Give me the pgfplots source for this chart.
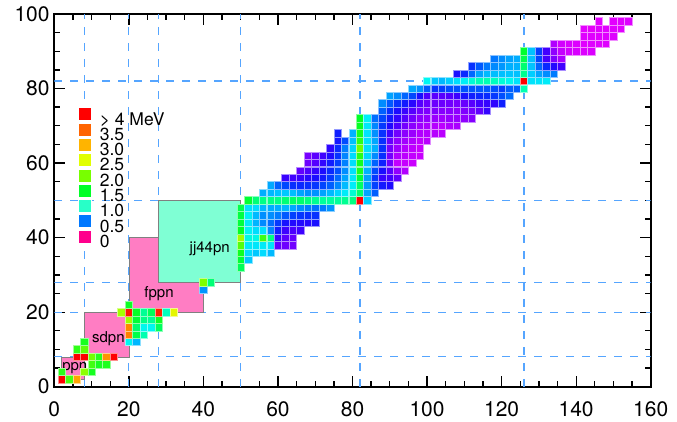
\documentclass[border=0pt]{standalone}
\usepackage{fontspec}
\setmainfont{TeX Gyre Heros}
\usepackage{pgfplots}
\pgfplotsset{compat=1.18}
\definecolor{magic}{RGB}{85,165,255}
\definecolor{boxpink}{RGB}{255,125,195}
\definecolor{boxaqua}{RGB}{127,255,212}
\definecolor{c40}{RGB}{255,0,0}
\definecolor{c35}{RGB}{255,100,0}
\definecolor{c30}{RGB}{255,180,0}
\definecolor{c25}{RGB}{225,255,0}
\definecolor{c20}{RGB}{120,255,0}
\definecolor{c15}{RGB}{0,255,40}
\definecolor{c10}{RGB}{40,255,200}
\definecolor{c05}{RGB}{0,120,255}
\definecolor{c00}{RGB}{255,0,140}
\pgfplotsset{colormap={etwo}{
 rgb255(0pt)=(255,0,140)
 rgb255(4pt)=(228,0,255)
 rgb255(7pt)=(200,0,255)
 rgb255(8pt)=(180,0,255)
 rgb255(9pt)=(155,0,255)
 rgb255(11pt)=(128,0,255)
 rgb255(14pt)=(100,0,255)
 rgb255(18pt)=(68,0,255)
 rgb255(25pt)=(30,10,255)
 rgb255(32pt)=(10,40,255)
 rgb255(40pt)=(0,75,255)
 rgb255(50pt)=(0,120,255)
 rgb255(62pt)=(0,170,255)
 rgb255(75pt)=(0,215,255)
 rgb255(88pt)=(0,245,245)
 rgb255(100pt)=(0,255,200)
 rgb255(125pt)=(0,255,120)
 rgb255(150pt)=(0,255,40)
 rgb255(200pt)=(120,255,0)
 rgb255(250pt)=(225,255,0)
 rgb255(300pt)=(255,180,0)
 rgb255(350pt)=(255,100,0)
 rgb255(400pt)=(255,0,0)
}}
\pgfplotsset{magicline/.style={color=magic, line width=1.2pt, dash pattern=on 8pt off 8pt, forget plot}}
\begin{document}
\begin{tikzpicture}
\useasboundingbox (-54.3pt,-34.3pt) rectangle (622.7pt,386.7pt);
\begin{axis}[
  at={(0pt,0pt)}, anchor=south west,
  scale only axis, width=596.4pt, height=372.75pt,
  xmin=0, xmax=160, ymin=0, ymax=100,
  xtick={0,20,...,160}, ytick={0,20,...,100},
  minor x tick num=3, minor y tick num=3,
  tick align=inside,
  major tick length=11pt, minor tick length=6pt,
  every tick/.style={black, line width=1.3pt},
  axis line style={black, line width=1.8pt},
  /pgf/number format/assume math mode=true,
  tick label style={font=\fontsize{21}{24}\selectfont},
  xticklabel style={inner sep=0pt, yshift=-15pt},
  yticklabel style={inner sep=0pt, xshift=-4.5pt},
  colormap name=etwo,
  point meta min=0, point meta max=4,
  legend style={at={(axis cs:6.44,75.0)}, anchor=north west, draw=none, fill=none,
    inner sep=0pt, outer sep=0pt, row sep=-3.9pt,
    font=\fontsize{17.5}{18}\selectfont,
    nodes={inner sep=0pt, outer sep=0pt},
    /tikz/every odd column/.append style={column sep=8pt}},
  legend cell align=left,
  legend image code/.code={\filldraw[#1, draw=white, line width=0.5pt] (0pt,-1pt) rectangle (13pt,12pt);},
]
\addlegendimage{fill=c40}\addlegendentry{> 4 MeV}
\addlegendimage{fill=c35}\addlegendentry{3.5}
\addlegendimage{fill=c30}\addlegendentry{3.0}
\addlegendimage{fill=c25}\addlegendentry{2.5}
\addlegendimage{fill=c20}\addlegendentry{2.0}
\addlegendimage{fill=c15}\addlegendentry{1.5}
\addlegendimage{fill=c10}\addlegendentry{1.0}
\addlegendimage{fill=c05}\addlegendentry{0.5}
\addlegendimage{fill=c00}\addlegendentry{0}

% magic-number lines
\addplot[magicline] coordinates {(8,0) (8,100)};
\addplot[magicline] coordinates {(20,0) (20,100)};
\addplot[magicline] coordinates {(28,0) (28,100)};
\addplot[magicline] coordinates {(50,0) (50,100)};
\addplot[magicline] coordinates {(82,0) (82,100)};
\addplot[magicline] coordinates {(126,0) (126,100)};
\addplot[magicline] coordinates {(0,8) (160,8)};
\addplot[magicline] coordinates {(0,20) (160,20)};
\addplot[magicline] coordinates {(0,28) (160,28)};
\addplot[magicline] coordinates {(0,50) (160,50)};
\addplot[magicline] coordinates {(0,82) (160,82)};

% E(2+) cells
\addplot[scatter, only marks, mark=square*, mark size=3.72pt, point meta=explicit,
  scatter/use mapped color={draw=mapped color!45!white, fill=mapped color},
  mark options={line width=0.55pt}, forget plot]
  table[x=N, y=Z, meta=E] {
N Z E
2 2 4.0
4 2 1.80
6 2 3.10
2 4 1.67
8 4 2.10
10 4 1.59
10 6 1.77
12 6 1.59
14 6 1.62
6 8 4.0
8 8 4.0
10 8 1.98
12 8 1.67
14 8 3.20
16 8 4.0
6 10 1.70
8 10 1.89
8 12 1.60
20 12 0.89
22 12 0.66
20 14 3.33
22 14 1.40
24 14 1.07
20 16 3.29
22 16 1.29
24 16 0.90
26 16 0.89
28 16 1.33
20 18 2.17
22 18 1.46
24 18 1.21
26 18 1.16
28 18 1.55
18 20 2.21
20 20 3.90
22 20 1.52
24 20 1.16
26 20 1.35
28 20 3.83
30 20 1.03
32 20 2.56
20 22 1.55
40 26 0.57
40 28 2.03
42 28 1.26
50 32 1.35
50 34 1.45
50 36 1.56
50 38 1.84
50 40 2.19
50 42 1.51
50 44 1.43
50 46 1.42
50 48 1.39
52 34 0.704
52 36 0.775
54 36 0.707
56 36 0.769
58 36 0.665
52 38 0.832
54 38 0.815
56 38 0.837
58 38 0.815
60 38 0.144
62 38 0.129
64 38 0.126
52 40 0.934
54 40 0.918
56 40 1.75
58 40 1.22
60 40 0.212
62 40 0.152
64 40 0.140
52 42 0.871
54 42 0.778
56 42 0.787
58 42 0.536
60 42 0.297
62 42 0.192
64 42 0.171
66 42 0.193
52 44 0.833
54 44 0.652
56 44 0.540
58 44 0.475
60 44 0.358
62 44 0.270
64 44 0.242
66 44 0.241
68 44 0.237
70 44 0.265
52 46 0.863
54 46 0.666
56 46 0.556
58 46 0.556
60 46 0.512
62 46 0.434
64 46 0.374
66 46 0.349
68 46 0.333
70 46 0.340
52 48 0.795
54 48 0.777
56 48 0.658
58 48 0.633
60 48 0.633
62 48 0.658
64 48 0.617
66 48 0.558
68 48 0.513
70 48 0.488
72 48 0.506
74 48 0.569
52 50 1.47
54 50 1.26
56 50 1.21
58 50 1.21
60 50 1.21
62 50 1.26
64 50 1.30
66 50 1.29
68 50 1.23
70 50 1.17
72 50 1.14
74 50 1.13
76 50 1.14
78 50 1.17
80 50 1.22
82 50 4.0
84 50 0.726
56 52 0.63
58 52 0.657
60 52 0.689
62 52 0.709
64 52 0.679
66 52 0.606
68 52 0.560
70 52 0.564
72 52 0.603
74 52 0.666
76 52 0.743
78 52 0.839
80 52 0.974
82 52 1.279
84 52 0.606
86 52 0.443
58 54 0.615
60 54 0.450
62 54 0.393
64 54 0.337
66 54 0.323
68 54 0.331
70 54 0.354
72 54 0.389
74 54 0.443
76 54 0.536
78 54 0.668
80 54 0.847
82 54 1.313
84 54 0.589
86 54 0.377
88 54 0.287
90 54 0.253
62 56 0.20
64 56 0.185
66 56 0.196
68 56 0.230
70 56 0.256
72 56 0.284
74 56 0.357
76 56 0.465
78 56 0.605
80 56 0.819
82 56 1.436
84 56 0.602
86 56 0.360
88 56 0.199
90 56 0.181
92 56 0.142
66 58 0.142
68 58 0.170
70 58 0.207
72 58 0.254
74 58 0.325
76 58 0.409
78 58 0.552
80 58 0.789
82 58 1.596
84 58 0.641
86 58 0.397
88 58 0.258
90 58 0.158
92 58 0.097
94 58 0.081
68 60 0.130
70 60 0.159
72 60 0.213
74 60 0.294
76 60 0.374
78 60 0.521
80 60 0.774
82 60 1.576
84 60 0.697
86 60 0.454
88 60 0.302
90 60 0.130
92 60 0.073
94 60 0.071
96 60 0.067
68 62 0.12
70 62 0.15
72 62 0.19
74 62 0.255
76 62 0.347
78 62 0.531
80 62 0.768
82 62 1.660
84 62 0.747
86 62 0.550
88 62 0.334
90 62 0.122
92 62 0.082
94 62 0.076
96 62 0.073
98 62 0.070
74 64 0.221
76 64 0.329
78 64 0.515
80 64 0.743
82 64 1.972
84 64 0.784
86 64 0.638
88 64 0.344
90 64 0.123
92 64 0.089
94 64 0.080
96 64 0.075
98 64 0.069
76 66 0.28
78 66 0.40
80 66 0.683
82 66 1.678
84 66 0.803
86 66 0.614
88 66 0.335
90 66 0.138
92 66 0.099
94 66 0.087
96 66 0.081
98 66 0.073
100 66 0.077
76 68 0.30
80 68 0.646
82 68 1.579
84 68 0.808
86 68 0.561
88 68 0.344
90 68 0.192
92 68 0.126
94 68 0.102
96 68 0.091
98 68 0.081
100 68 0.080
102 68 0.079
104 68 0.077
82 70 1.531
84 70 0.821
86 70 0.536
88 70 0.358
90 70 0.243
92 70 0.167
94 70 0.123
96 70 0.102
98 70 0.088
100 70 0.084
102 70 0.079
104 70 0.076
106 70 0.082
108 70 0.084
82 72 1.51
84 72 0.858
86 72 0.477
88 72 0.390
90 72 0.285
92 72 0.211
94 72 0.159
96 72 0.124
98 72 0.100
100 72 0.095
102 72 0.091
104 72 0.088
106 72 0.093
108 72 0.093
110 72 0.098
112 72 0.107
88 74 0.450
90 74 0.332
92 74 0.252
94 74 0.199
96 74 0.157
98 74 0.123
100 74 0.112
102 74 0.109
104 74 0.106
106 74 0.104
108 74 0.100
110 74 0.111
112 74 0.122
114 74 0.143
116 74 0.207
88 76 0.548
90 76 0.431
92 76 0.341
94 76 0.287
96 76 0.228
98 76 0.159
100 76 0.135
102 76 0.132
104 76 0.132
106 76 0.127
108 76 0.120
110 76 0.137
112 76 0.155
114 76 0.187
116 76 0.206
118 76 0.218
120 76 0.30
90 78 0.60
92 78 0.55
94 78 0.458
96 78 0.394
98 78 0.264
100 78 0.170
102 78 0.153
104 78 0.155
106 78 0.163
108 78 0.192
110 78 0.266
112 78 0.296
114 78 0.317
116 78 0.328
118 78 0.356
120 78 0.407
122 78 0.470
96 80 0.61
98 80 0.558
100 80 0.434
102 80 0.352
104 80 0.367
106 80 0.405
108 80 0.413
110 80 0.416
112 80 0.423
114 80 0.428
116 80 0.426
118 80 0.412
120 80 0.368
122 80 0.440
124 80 0.437
126 80 1.068
100 82 0.888
102 82 0.702
104 82 0.662
106 82 0.724
108 82 0.774
110 82 0.854
112 82 0.965
114 82 1.049
116 82 1.064
118 82 1.027
120 82 0.961
122 82 0.899
124 82 0.803
126 82 4.0
128 82 0.800
130 82 0.805
132 82 0.836
108 84 0.262
110 84 0.320
112 84 0.463
114 84 0.605
116 84 0.666
118 84 0.677
120 84 0.684
122 84 0.700
124 84 0.686
126 84 1.181
128 84 0.727
130 84 0.609
132 84 0.550
134 84 0.509
112 86 0.34
114 86 0.433
116 86 0.504
118 86 0.543
120 86 0.575
122 86 0.636
124 86 0.644
126 86 1.274
128 86 0.695
130 86 0.461
132 86 0.324
134 86 0.241
136 86 0.186
118 88 0.50
120 88 0.55
122 88 0.60
124 88 0.629
126 88 1.383
128 88 0.688
130 88 0.389
132 88 0.178
134 88 0.111
136 88 0.084
126 90 1.48
128 90 0.69
130 90 0.37
132 90 0.183
134 90 0.098
136 90 0.072
138 90 0.058
140 90 0.053
142 90 0.049
144 90 0.050
134 92 0.081
136 92 0.059
138 92 0.052
140 92 0.048
142 92 0.043
144 92 0.045
146 92 0.045
148 92 0.045
142 94 0.044
144 94 0.044
146 94 0.043
148 94 0.045
150 94 0.046
142 96 0.040
144 96 0.038
146 96 0.042
148 96 0.043
150 96 0.043
152 96 0.043
146 98 0.040
150 98 0.041
152 98 0.043
154 98 0.046
};

% model-space boxes
\addplot[fill=boxpink, draw=gray, line width=0.7pt, forget plot] coordinates {(20,20) (40,20) (40,40) (20,40)} -- cycle;
\addplot[fill=boxaqua, draw=gray, line width=0.7pt, forget plot] coordinates {(28,28) (50,28) (50,50) (28,50)} -- cycle;
\addplot[fill=boxpink, draw=gray, line width=0.7pt, forget plot] coordinates {(8,8) (20,8) (20,20) (8,20)} -- cycle;
\addplot[fill=boxpink, draw=gray, line width=0.7pt, forget plot] coordinates {(2,2) (8,2) (8,8) (2,8)} -- cycle;

\node[font=\fontsize{15}{16}\selectfont] at (axis cs:5.5,5.0) {ppn};
\node[font=\fontsize{15}{16}\selectfont] at (axis cs:14.5,13.0) {sdpn};
\node[font=\fontsize{15}{16}\selectfont] at (axis cs:28.1,25.0) {fppn};
\node[font=\fontsize{15}{16}\selectfont] at (axis cs:41.7,37.0) {jj44pn};
\end{axis}
\end{tikzpicture}
\end{document}
